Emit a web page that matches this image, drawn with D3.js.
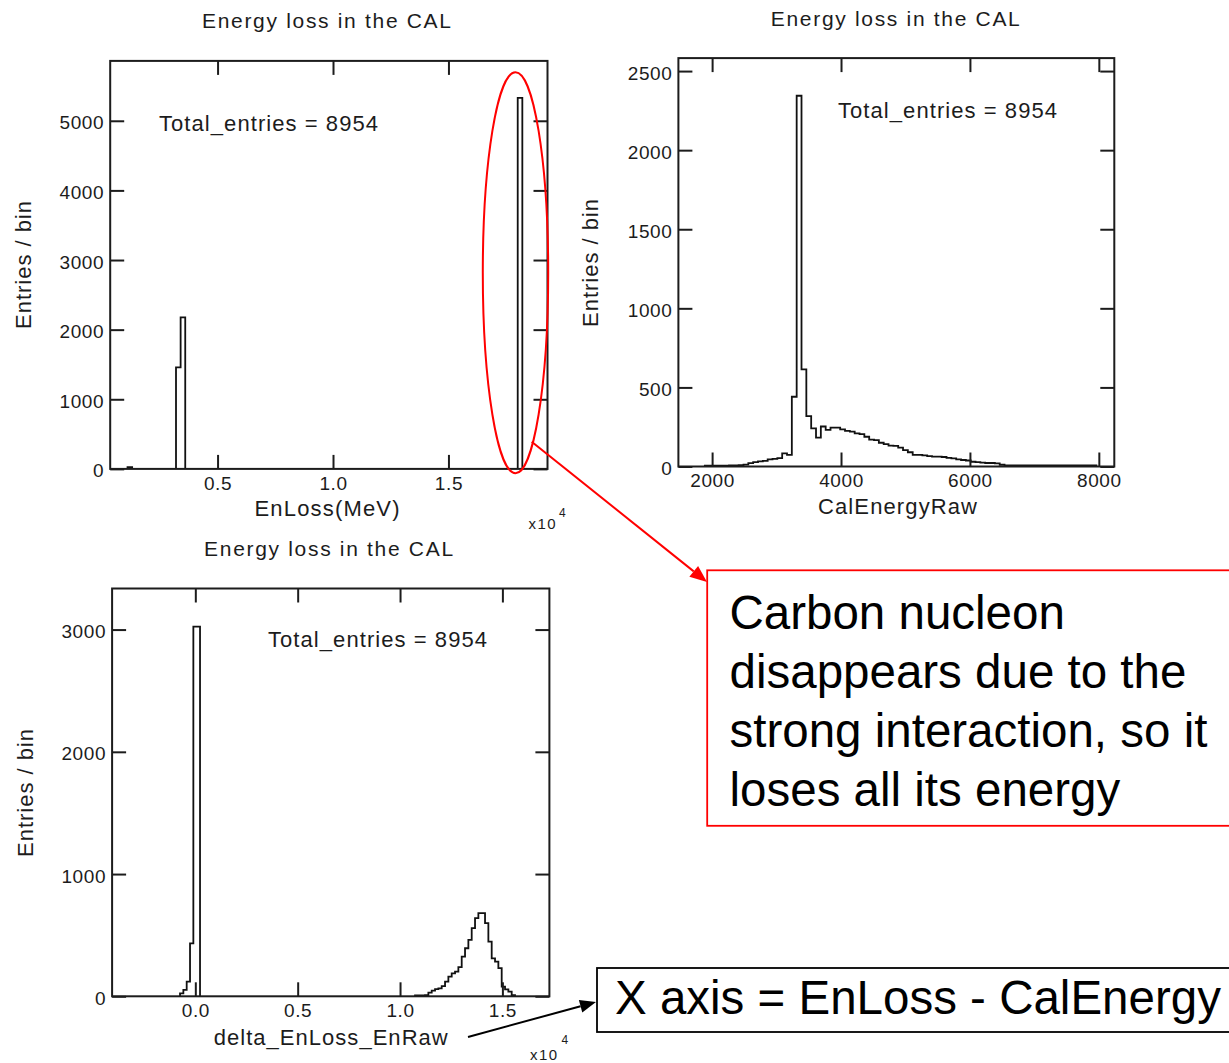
<!DOCTYPE html>
<html><head><meta charset="utf-8">
<script src="https://cdn.jsdelivr.net/npm/d3@7"></script>
<style>body{margin:0;background:#fff} svg{display:block}</style>
</head><body>
<svg id="c" width="1229" height="1063"></svg>
<script>
// ---------------- DATA ----------------
const titleText = "Energy loss in the CAL";
const totalEntries = 8954;
const yLabelText = "Entries / bin";
const expLabel = "x10";
const expPower = "4";

// Top-left: EnLoss (x in units of 10^4 MeV)
const tlXLabel = "EnLoss(MeV)";
const tlXDomain = [0.035, 1.929];
const tlYDomain = [0, 5860];
const tlXTicks = [0.5, 1.0, 1.5];
const tlXTickLabels = ["0.5", "1.0", "1.5"];
const tlYTicks = [0, 1000, 2000, 3000, 4000, 5000];
const tlBinWidth = 0.02;
const tlLowStart = 0.110, tlLowCounts = [25];
const tlMidStart = 0.320, tlMidCounts = [1459, 2177];
const tlHighStart = 1.800, tlHighCounts = [5330];

// Top-right: CalEnergyRaw
const trXLabel = "CalEnergyRaw";
const trXDomain = [1477, 8240];
const trYDomain = [0, 2582];
const trXTicks = [2000, 4000, 6000, 8000];
const trXTickLabels = ["2000", "4000", "6000", "8000"];
const trYTicks = [0, 500, 1000, 1500, 2000, 2500];
const trBinWidth = 75;
const trStart = 1887;
const trCounts = [6,6,6,6,6,7,7,8,12,21,28,32,35,45,48,53,83,73,441,2344,
  614,319,241,182,253,231,246,246,235,225,220,210,205,188,170,167,150,142,132,130,
  119,104,90,73,73,70,65,62,62,60,55,52,45,41,38,30,28,24,22,22,
  20,11,7,7,7,7,7,7,7,7,7,7,7,7,7,7,7,7,7,7,7];

// Bottom-left: delta_EnLoss_EnRaw (x in units of 10^4)
const blXLabel = "delta_EnLoss_EnRaw";
const blXDomain = [-0.4065, 1.7296];
const blYDomain = [0, 3336];
const blXTicks = [0.0, 0.5, 1.0, 1.5];
const blXTickLabels = ["0.0", "0.5", "1.0", "1.5"];
const blYTicks = [0, 1000, 2000, 3000];
const blBinWidth = 0.01628;
const blLeftStart = -0.0747, blLeftCounts = [24, 52, 120, 433, 3024, 3024];
const blRightStart = 1.0733, blRightCounts = [8,8,8,10,30,46,58,65,84,120,161,188,202,238,325,
  393,461,557,639,680,680,598,448,311,284,230,79,57,38,10];

// Annotations
const redNote = ["Carbon nucleon", "disappears due to the", "strong interaction, so it", "loses all its energy"];
const blackNote = "X axis = EnLoss - CalEnergy";

// ---------------- DRAW ----------------
const svg = d3.select("#c");
const FONT = "'Liberation Sans', Arial, Helvetica, sans-serif";
const INK = "#1c1c1c";

function txt(g, s, x, y, size, opts = {}) {
  const t = g.append("text").text(s)
    .attr("font-family", FONT).attr("font-size", size).attr("fill", opts.fill || INK)
    .attr("text-anchor", opts.anchor || "start");
  if (opts.rotate) t.attr("transform", `translate(${x},${y}) rotate(${opts.rotate})`);
  else t.attr("x", x).attr("y", y);
  if (opts.width) t.attr("textLength", opts.width).attr("lengthAdjust", "spacing");
  return t;
}

function drawHist(cfg) {
  const g = svg.append("g");
  const x = d3.scaleLinear().domain(cfg.xDomain).range([cfg.left, cfg.right]);
  const y = d3.scaleLinear().domain(cfg.yDomain).range([cfg.bottom, cfg.top]);
  const line = d3.line().x(d => x(d[0])).y(d => y(d[1]));
  cfg.runs.forEach(r => {
    const pts = [[r.start, 0]];
    r.counts.forEach((c, i) => {
      const x0 = r.start + i * cfg.binWidth;
      pts.push([x0, c], [x0 + cfg.binWidth, c]);
    });
    pts.push([r.start + r.counts.length * cfg.binWidth, 0]);
    g.append("path").attr("d", line(pts)).attr("fill", "none")
      .attr("stroke", "#111").attr("stroke-width", 1.8).attr("stroke-linejoin", "miter");
  });
  const tl = 14;
  const fmtX = d => cfg.xTickLabels[cfg.xTicks.indexOf(d)];
  const gb = g.append("g").attr("transform", `translate(0,${cfg.bottom})`)
    .call(d3.axisBottom(x).tickValues(cfg.xTicks).tickFormat(fmtX).tickSize(-tl).tickPadding(7.5));
  const gt = g.append("g").attr("transform", `translate(0,${cfg.top})`)
    .call(d3.axisTop(x).tickValues(cfg.xTicks).tickFormat("").tickSize(-tl));
  const gl = g.append("g").attr("transform", `translate(${cfg.left},0)`)
    .call(d3.axisLeft(y).tickValues(cfg.yTicks).tickFormat(d3.format("d")).tickSize(-tl).tickPadding(6));
  const gr = g.append("g").attr("transform", `translate(${cfg.right},0)`)
    .call(d3.axisRight(y).tickValues(cfg.yTicks).tickFormat("").tickSize(-tl));
  [gb, gt, gl, gr].forEach(a => {
    a.select(".domain").remove();
    a.selectAll(".tick line").attr("stroke", INK).attr("stroke-width", 2);
    a.selectAll("text").attr("font-family", FONT).attr("font-size", 19)
      .attr("fill", INK).attr("letter-spacing", "0.6px");
  });
  gl.selectAll("text").attr("dy", "0.42em");
  g.append("rect").attr("x", cfg.left).attr("y", cfg.top)
    .attr("width", cfg.right - cfg.left).attr("height", cfg.bottom - cfg.top)
    .attr("fill", "none").attr("stroke", INK).attr("stroke-width", 2);
  // texts
  txt(g, titleText, cfg.titleX, cfg.titleY, 21, {anchor: "middle", width: 249});
  txt(g, "Total_entries = " + totalEntries, cfg.totX, cfg.totY, 22, {width: 219});
  txt(g, cfg.xLabel, cfg.xLabX, cfg.xLabY, 22, {anchor: "middle", width: cfg.xLabW});
  txt(g, yLabelText, cfg.yLabX, cfg.yLabY, 22, {anchor: "middle", width: 128, rotate: -90});
  if (cfg.exp) {
    txt(g, expLabel, cfg.exp[0], cfg.exp[1], 15, {width: 27});
    txt(g, expPower, cfg.exp[2], cfg.exp[3], 12);
  }
}

drawHist({
  left: 110.2, right: 547.5, top: 60.9, bottom: 468.9,
  xDomain: tlXDomain, yDomain: tlYDomain, xTicks: tlXTicks, xTickLabels: tlXTickLabels, yTicks: tlYTicks,
  binWidth: tlBinWidth,
  runs: [{start: tlLowStart, counts: tlLowCounts}, {start: tlMidStart, counts: tlMidCounts}, {start: tlHighStart, counts: tlHighCounts}],
  titleX: 326.5, titleY: 27.5, totX: 159, totY: 131,
  xLabel: tlXLabel, xLabX: 327, xLabY: 516, xLabW: 145,
  yLabX: 31, yLabY: 265,
  exp: [528.5, 528.5, 559, 517]
});

drawHist({
  left: 678.4, right: 1114.3, top: 58.1, bottom: 466.5,
  xDomain: trXDomain, yDomain: trYDomain, xTicks: trXTicks, xTickLabels: trXTickLabels, yTicks: trYTicks,
  binWidth: trBinWidth,
  runs: [{start: trStart, counts: trCounts}],
  titleX: 895.3, titleY: 25.5, totX: 838, totY: 118,
  xLabel: trXLabel, xLabX: 897.5, xLabY: 514, xLabW: 159,
  yLabX: 597.5, yLabY: 263
});

drawHist({
  left: 112.1, right: 549.4, top: 588.5, bottom: 996.3,
  xDomain: blXDomain, yDomain: blYDomain, xTicks: blXTicks, xTickLabels: blXTickLabels, yTicks: blYTicks,
  binWidth: blBinWidth,
  runs: [{start: blLeftStart, counts: blLeftCounts}, {start: blRightStart, counts: blRightCounts}],
  titleX: 328.6, titleY: 555.5, totX: 268, totY: 647.3,
  xLabel: blXLabel, xLabX: 330.7, xLabY: 1045, xLabW: 234,
  yLabX: 33, yLabY: 793,
  exp: [530, 1060, 561.5, 1043.5]
});

// ---------------- ANNOTATIONS ----------------
function arrow(g, x1, y1, x2, y2, color, hl, hw, sw) {
  const dx = x2 - x1, dy = y2 - y1, L = Math.hypot(dx, dy);
  const ux = dx / L, uy = dy / L;
  const bx = x2 - ux * hl, by = y2 - uy * hl;
  g.append("line").attr("x1", x1).attr("y1", y1).attr("x2", bx).attr("y2", by)
    .attr("stroke", color).attr("stroke-width", sw);
  g.append("path").attr("d",
    `M${x2},${y2} L${bx - uy * hw},${by + ux * hw} L${bx + uy * hw},${by - ux * hw} Z`)
    .attr("fill", color);
}

const ann = svg.append("g");
ann.append("ellipse").attr("cx", 515.5).attr("cy", 272.7).attr("rx", 32.7).attr("ry", 200.5)
  .attr("fill", "none").attr("stroke", "#ff0000").attr("stroke-width", 2);
arrow(ann, 531.7, 441.7, 707, 582, "#ff0000", 17, 7, 2);

ann.append("rect").attr("x", 707.2).attr("y", 570.3).attr("width", 540).attr("height", 255.5)
  .attr("fill", "none").attr("stroke", "#ff0000").attr("stroke-width", 1.8);
redNote.forEach((s, i) => {
  ann.append("text").text(s).attr("x", 729.5).attr("y", 628.8 + i * 59)
    .attr("font-family", FONT).attr("font-size", 47.5).attr("fill", "#000");
});

arrow(ann, 468, 1037, 596, 1002, "#000", 16, 6.5, 2);
ann.append("rect").attr("x", 597).attr("y", 968).attr("width", 640).attr("height", 64)
  .attr("fill", "none").attr("stroke", "#000").attr("stroke-width", 1.8);
ann.append("text").text(blackNote).attr("x", 615).attr("y", 1014)
  .attr("font-family", FONT).attr("font-size", 47.5).attr("fill", "#000");
</script>
</body></html>
